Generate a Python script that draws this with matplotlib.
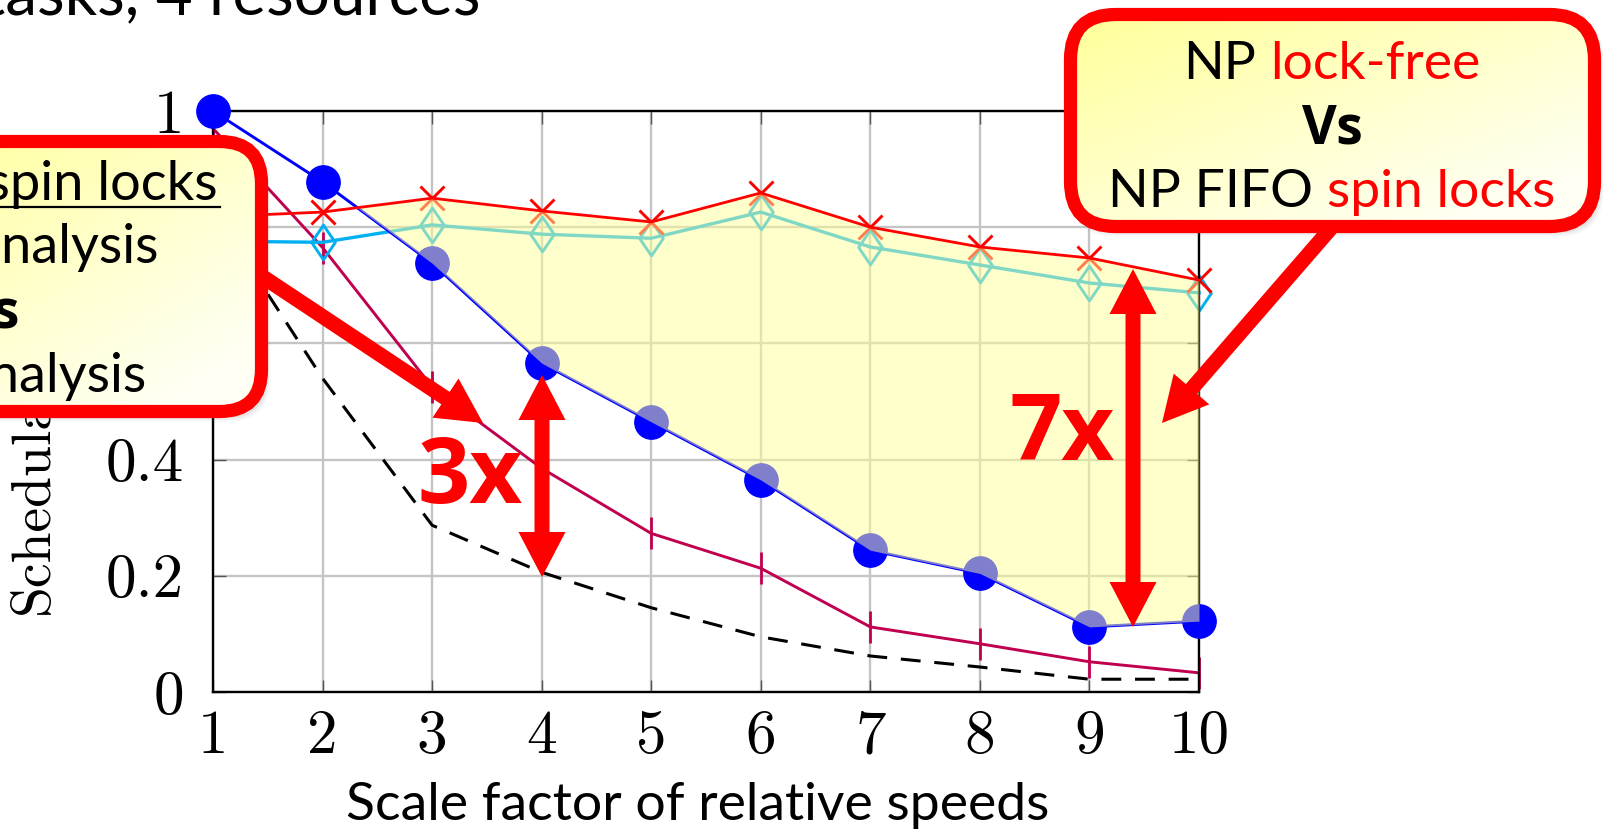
import numpy as np
import matplotlib
matplotlib.use('Agg')
import matplotlib.pyplot as plt
from matplotlib.patches import FancyBboxPatch, FancyArrow
from matplotlib.path import Path

# ---------------- data ----------------
x_vals = [1, 2, 3, 4, 5, 6, 7, 8, 9, 10]
blue_circles = [1.0, 0.878, 0.738, 0.566, 0.465, 0.365, 0.244, 0.204, 0.112, 0.122]
red_crosses = [0.818, 0.826, 0.850, 0.828, 0.809, 0.859, 0.800, 0.766, 0.747, 0.709]
cyan_diamonds = [0.776, 0.774, 0.804, 0.788, 0.781, 0.826, 0.766, 0.735, 0.704, 0.687]
crimson_ticks = [0.97, 0.765, 0.525, 0.385, 0.273, 0.213, 0.112, 0.083, 0.052, 0.033]
dashed_bound = [0.83, 0.54, 0.287, 0.206, 0.145, 0.095, 0.062, 0.043, 0.022, 0.022]
y_ticks = [0, 0.2, 0.4, 0.6, 0.8, 1]
y_tick_labels = ['0', '0.2', '0.4', '0.6', '0.8', '1']
x_tick_labels = ['1', '2', '3', '4', '5', '6', '7', '8', '9', '10']

W, H = 1604, 831
fig = plt.figure(figsize=(W / 100, H / 100), dpi=100)
fig.patch.set_facecolor('white')

SANS = ['Lato', 'DejaVu Sans']
BOLD = ['Open Sans', 'DejaVu Sans']

# ---------------- main axes ----------------
ax = fig.add_axes([213 / W, 1 - 692 / H, 986 / W, 581 / H])
ax.set_xlim(1, 10)
ax.set_ylim(0, 1)
ax.grid(True, color='#c4c4c4', lw=1.7, zorder=0)
ax.set_axisbelow(True)
for s in ax.spines.values():
    s.set_linewidth(1.7)
    s.set_color('black')
    s.set_zorder(2.5)

x = np.array(x_vals, dtype=float)
red = np.array(red_crosses)
blue = np.array(blue_circles)

ax.plot(x, dashed_bound, color='black', lw=2.2, ls=(0, (6.5, 4.5)), zorder=2, clip_on=False)
ax.plot(x, crimson_ticks, color='#c0004f', lw=2.1, marker='|', ms=23, mew=2.0, zorder=2.2, clip_on=False)
diamond = Path([(0, 1), (0.68, 0), (0, -1), (-0.68, 0), (0, 1)],
               [Path.MOVETO, Path.LINETO, Path.LINETO, Path.LINETO, Path.CLOSEPOLY])
ax.plot(x, cyan_diamonds, color='#00b0f0', lw=2.4, marker=diamond, ms=25, mew=2.1,
        mfc='none', zorder=2.3, clip_on=False)
ax.plot(x, red_crosses, color='red', lw=0, marker='x', ms=17, mew=2.1, zorder=2.4, clip_on=False)
ax.plot(x, blue_circles, color='#0000ff', lw=2.1, marker='o', ms=24, zorder=2.6, clip_on=False)
ax.fill_between(x, red, blue, where=red >= blue, interpolate=True,
                color='#ffff99', alpha=0.5, lw=0, zorder=3)
ax.plot(x, red_crosses, color='red', lw=2.0, zorder=3.2, clip_on=False)

ax.set_xticks(x_vals)
ax.set_xticklabels(x_tick_labels, fontfamily='cmr10', fontsize=44)
ax.set_yticks(y_ticks)
ax.set_yticklabels(y_tick_labels, fontfamily='cmr10', fontsize=44)
ax.tick_params(direction='in', length=9, width=1.0, color='#555555',
               top=True, right=True)
ax.tick_params(axis='x', pad=13)
ax.tick_params(axis='y', pad=21)

# ---------------- overlay in pixel coordinates ----------------
ov = fig.add_axes([0, 0, 1, 1], zorder=5)
ov.patch.set_alpha(0)
ov.axis('off')
ov.set_xlim(0, W)
ov.set_ylim(H, 0)

# title (cut at top) and axis labels
ov.text(480, 14, '10 tasks, 4 resources', ha='right', va='baseline',
        fontsize=46, family=SANS, color='black', zorder=1)
ov.text(47, 614, 'Schedulability', rotation=90, rotation_mode='anchor',
        ha='left', va='baseline', fontsize=40, family='cmr10', zorder=1)
ov.text(698, 820, 'Scale factor of relative speeds', ha='center', va='baseline',
        fontsize=38.5, family=SANS, zorder=1)


def shadow(x0, y0, w, h, r):
    for k, a in [(10, 0.05), (7, 0.07), (4, 0.10)]:
        p = FancyBboxPatch((x0 + 4, y0 + 5), w, h,
                           boxstyle=f"round,pad={k/2},rounding_size={r}",
                           fc='#808080', ec='none', alpha=a, zorder=2)
        ov.add_patch(p)


def callout(x0, y0, x1, y1, r):
    shadow(x0, y0, x1 - x0, y1 - y0, r)
    face = FancyBboxPatch((x0, y0), x1 - x0, y1 - y0,
                          boxstyle=f"round,pad=0,rounding_size={r}",
                          fc='none', ec='none', zorder=3)
    ov.add_patch(face)
    n = 200
    u = np.linspace(0, 1, n)
    U, V = np.meshgrid(u, u)
    t = np.clip(0.55 * U + 0.6 * V, 0, 1)
    c0 = np.array([1.0, 1.0, 0.60])
    c1 = np.array([1.0, 1.0, 0.96])
    grad = c0[None, None, :] * (1 - t[..., None]) + c1[None, None, :] * t[..., None]
    im = ov.imshow(grad, extent=(x0, x1, y1, y0), aspect='auto', zorder=3.1,
                   interpolation='bilinear')
    im.set_clip_path(face)
    border = FancyBboxPatch((x0, y0), x1 - x0, y1 - y0,
                            boxstyle=f"round,pad=0,rounding_size={r}",
                            fc='none', ec='#ff0000', lw=9.5, zorder=3.3)
    ov.add_patch(border)


RED = '#ff0000'
# tail arrows (drawn under boxes)
def arrow(x0, y0, x1, y1, z=2.8):
    ov.add_patch(FancyArrow(x0, y0, x1 - x0, y1 - y0, width=15, head_width=47,
                            head_length=45, length_includes_head=True,
                            color=RED, lw=0, zorder=z))

arrow(245, 265, 483, 423)
arrow(1345, 212, 1162, 423)

callout(-120, 141.5, 261.5, 411.5, 42)
callout(1070.5, 14.5, 1594.5, 226.5, 45)

# left callout text (clipped at figure's left edge)
LS = 39
ov.text(218, 200, 'NP FIFO spin locks', ha='right', va='baseline', fontsize=LS,
        family=SANS, zorder=4)
ov.plot([-10, 220], [207, 207], color='black', lw=1.6, zorder=4)
ov.text(158, 263, 'with new analysis', ha='right', va='baseline', fontsize=LS,
        family=SANS, zorder=4)
ov.text(20, 327, 'Vs', ha='right', va='baseline', fontsize=LS,
        family=BOLD, fontweight='bold', zorder=4)
ov.text(146, 392, 'with classic analysis', ha='right', va='baseline', fontsize=LS,
        family=SANS, zorder=4)

# right callout text with mixed colours
renderer = fig.canvas.get_renderer()


def mixed(black_part, red_part, cx, y, size):
    full = black_part + ' ' + red_part if red_part else black_part
    probe = ov.text(0, y, full, fontsize=size, family=SANS)
    wf = probe.get_window_extent(renderer).width
    probe.remove()
    if red_part:
        probe2 = ov.text(0, y, red_part, fontsize=size, family=SANS)
        wr = probe2.get_window_extent(renderer).width
        probe2.remove()
    xs = cx - wf / 2
    ov.text(xs, y, black_part, ha='left', va='baseline', fontsize=size,
            family=SANS, color='black', zorder=4)
    if red_part:
        ov.text(xs + wf - wr, y, red_part, ha='left', va='baseline', fontsize=size,
                family=SANS, color=RED, zorder=4)

RS = 38.5
mixed('NP', 'lock-free', 1332, 79, RS)
ov.text(1332, 143, 'Vs', ha='center', va='baseline', fontsize=RS, family=BOLD,
        fontweight='bold', zorder=4)
mixed('NP FIFO', 'spin locks', 1332, 207, RS)

# double arrows and factors
def double_arrow(xc, ytop, ybot):
    mid = (ytop + ybot) / 2
    for yt in (ytop, ybot):
        ov.add_patch(FancyArrow(xc, mid, 0, yt - mid, width=15, head_width=47,
                                head_length=45, length_includes_head=True,
                                color=RED, lw=0, zorder=4.5))

double_arrow(542, 375, 577)
double_arrow(1133, 269, 627)
ov.text(470, 503, '3x', ha='center', va='baseline', fontsize=66, family=BOLD,
        fontweight='bold', color=RED, zorder=4.6)
ov.text(1062, 460, '7x', ha='center', va='baseline', fontsize=66, family=BOLD,
        fontweight='bold', color=RED, zorder=4.6)

ov.set_xlim(0, W)
ov.set_ylim(H, 0)
fig.savefig('out.png', dpi=100)
